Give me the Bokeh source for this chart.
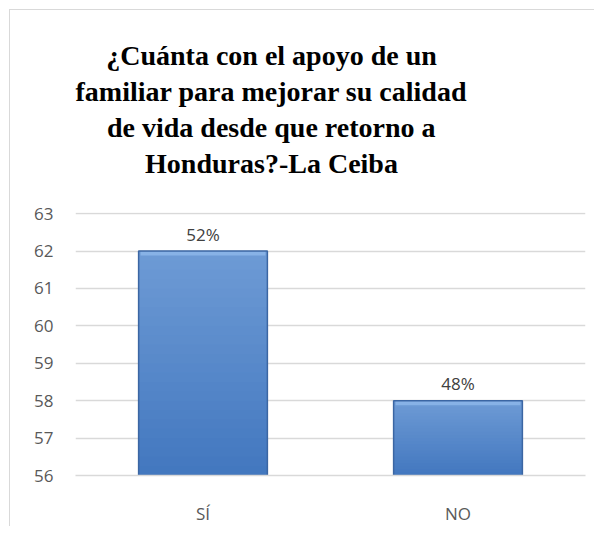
from bokeh.plotting import figure
from bokeh.models import Range1d, Title, ColumnDataSource
from bokeh.core.properties import value
from bokeh.embed import file_html
from bokeh.resources import INLINE

categories = ["SÍ", "NO"]
values = [62, 58]
pct_labels = ["52%", "48%"]
title_lines = [
    "¿Cuánta con el apoyo de un",
    "familiar para mejorar su calidad",
    "de vida desde que retorno a",
    "Honduras?-La Ceiba",
]
y_min, y_max = 56, 63

# Times-Bold advance widths (per 1000 em) used to centre each title line
TB = {" ": 250, "?": 500, "¿": 500, "-": 333, "C": 722, "H": 778, "L": 667,
      "a": 500, "á": 500, "b": 556, "c": 444, "d": 556, "e": 444, "f": 333,
      "i": 278, "j": 333, "l": 278, "m": 833, "n": 556, "o": 500, "p": 556,
      "q": 556, "r": 444, "s": 389, "t": 333, "u": 556, "v": 500, "y": 500}
TITLE_PX = 28
TITLE_CENTER = 196  # px from frame left

p = figure(x_range=categories, y_range=Range1d(y_min, y_max + 0.03),
           width=585, height=517, output_backend="svg", toolbar_location=None,
           min_border_left=65, min_border_right=10, min_border_top=202, min_border_bottom=49)
p.styles = {"border-top": "1px solid #d9d9d9", "border-left": "1px solid #d9d9d9",
            "margin-left": "9px", "margin-top": "9px"}
p.outline_line_color = None
p.background_fill_color = "white"
p.border_fill_color = "white"

# spacer between title block and plot area
p.add_layout(Title(text=" ", text_font_size="26px", standoff=0), "above")
for line in reversed(title_lines):
    w = sum(TB.get(ch, 500) for ch in line) / 1000.0 * TITLE_PX
    p.add_layout(Title(text=line, align="left", offset=TITLE_CENTER - w / 2,
                       text_font="Liberation Serif",
                       text_font_style="bold",
                       text_font_size="%dpx" % TITLE_PX, text_color="black",
                       standoff=3), "above")

# gradient bars built from the data values (overlapping layers, no seams)
N = 24
top_c = (0x6e, 0x9b, 0xd5)
bot_c = (0x42, 0x77, 0xbf)
for i in range(N, 0, -1):
    t = (i - 0.5) / N
    c = tuple(int(round(bot_c[k] + (top_c[k] - bot_c[k]) * t)) for k in range(3))
    col = "#%02x%02x%02x" % c
    tops = [y_min + (v - y_min) * i / N for v in values]
    p.vbar(x=categories, bottom=y_min, top=tops, width=0.505, fill_color=col, line_color=None)

# bevel highlight on top
p.vbar(x=categories, bottom=[v - 0.12 for v in values], top=values, width=0.49,
       fill_color="#8fb8ea", line_color=None, fill_alpha=0.8)
p.vbar(x=categories, bottom=y_min, top=values, width=0.505, fill_color=None,
       line_color="#3b66a3", line_width=1.5)

src = ColumnDataSource(dict(x=categories, y=values, t=pct_labels))
p.text(x="x", y="y", text="t", source=src, text_align="center", text_baseline="alphabetic",
       y_offset=-17, text_font=value("Open Sans"), text_font_size="17px", text_color="#404040")

p.xgrid.grid_line_color = None
p.ygrid.grid_line_color = "#d9d9d9"
p.ygrid.grid_line_width = 1.5

p.yaxis.ticker = list(range(y_min, y_max + 1))
p.yaxis.axis_line_color = None
p.yaxis.major_tick_line_color = None
p.yaxis.minor_tick_line_color = None
p.yaxis.major_label_standoff = 16
p.yaxis.major_label_text_font = "Open Sans"
p.yaxis.major_label_text_font_size = "17px"
p.yaxis.major_label_text_color = "#595959"

p.xaxis.axis_line_color = "#d9d9d9"
p.xaxis.axis_line_width = 1.5
p.xaxis.major_tick_line_color = None
p.xaxis.major_label_standoff = 20
p.xaxis.major_label_text_font = "Open Sans"
p.xaxis.major_label_text_font_size = "17px"
p.xaxis.major_label_text_color = "#595959"

open("out.html", "w").write(file_html(p, INLINE))
